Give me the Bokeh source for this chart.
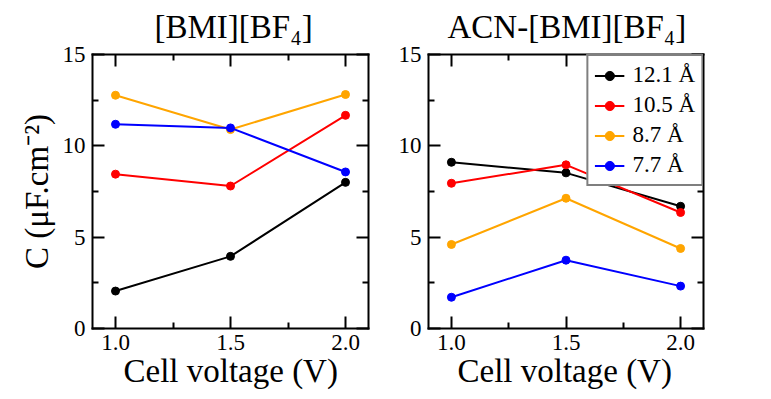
from bokeh.plotting import figure
from bokeh.models import Range1d, FixedTicker, LinearAxis, Legend, LegendItem, Title
from bokeh.layouts import row
from bokeh.embed import file_html
from bokeh.resources import INLINE

# ---------------- data ----------------
voltage = [1.0, 1.5, 2.0]
series_names = ["12.1 Å", "10.5 Å", "8.7 Å", "7.7 Å"]
series_colors = ["black", "#ff0000", "#ffa500", "#0000ff"]

# [BMI][BF4]
bmi_12_1 = [2.05, 3.95, 8.00]
bmi_10_5 = [8.45, 7.80, 11.67]
bmi_8_7 = [12.77, 10.89, 12.81]
bmi_7_7 = [11.18, 10.98, 8.57]

# ACN-[BMI][BF4]
acn_12_1 = [9.10, 8.52, 6.69]
acn_10_5 = [7.95, 8.96, 6.35]
acn_8_7 = [4.60, 7.13, 4.38]
acn_7_7 = [1.71, 3.74, 2.32]

titles = ["[BMI][BF₄]", "ACN-[BMI][BF₄]"]
x_title = "Cell voltage (V)"
y_title = "C (μF.cm⁻²)"

x_lo, x_hi = 0.9, 2.1
y_lo, y_hi = 0.0, 15.0
x_ticks = [1.0, 1.5, 2.0]
x_minor = [1.25, 1.75]
y_ticks = [0, 5, 10, 15]
y_minor = [2.5, 7.5, 12.5]
x_tick_labels = {1.0: "1.0", 1.5: "1.5", 2.0: "2.0"}

FONT = "Liberation Serif"
MAJ, MIN = 12, 6                   # tick lengths, px
H = 399
BOX_TOP, BOX_BOTTOM = 54, 328


def base_axis(ax, ticks, minor, tick_in):
    ax.ticker = FixedTicker(ticks=ticks, minor_ticks=minor)
    ax.axis_line_width = 2
    ax.axis_line_color = "black"
    ax.axis_line_cap = "square"
    ax.major_tick_line_width = 2
    ax.minor_tick_line_width = 2
    ax.major_tick_line_color = "black"
    ax.minor_tick_line_color = "black"
    ax.major_tick_in = MAJ
    ax.major_tick_out = 0
    ax.minor_tick_in = tick_in
    ax.minor_tick_out = 0
    ax.major_label_standoff = 0


def mirror_axes(p, side, ticks, minor):
    # label-free mirrored axes: tick marks only (as "minor" ticks, which carry no labels)
    a1 = LinearAxis()
    base_axis(a1, [], ticks, MAJ)
    a2 = LinearAxis()
    base_axis(a2, [], minor, MIN)
    a2.axis_line_color = None
    p.add_layout(a1, side)
    p.add_layout(a2, side)


def text_title(text, size, offset, standoff):
    return Title(text=text, text_font=FONT, text_font_size=size, text_font_style="normal",
                 text_color="black", align="left", offset=offset, standoff=standoff,
                 vertical_align="top")


def make_fig(width, mbl, mbr, series, title, t_off, xl_off):
    p = figure(width=width, height=H, x_range=Range1d(x_lo, x_hi), y_range=Range1d(y_lo, y_hi),
               output_backend="svg", toolbar_location=None,
               min_border_left=mbl, min_border_right=mbr,
               min_border_top=BOX_TOP, min_border_bottom=H - BOX_BOTTOM)
    p.grid.visible = False
    p.outline_line_color = None
    p.background_fill_color = "white"
    p.border_fill_color = "white"

    xa = p.xaxis[0]
    base_axis(xa, x_ticks, x_minor, MIN)
    xa.major_label_overrides = x_tick_labels
    xa.major_label_text_font = FONT
    xa.major_label_text_font_size = "23px"
    xa.major_label_text_color = "black"
    xa.major_label_standoff = 6

    ya = p.yaxis[0]
    base_axis(ya, y_ticks, y_minor, MIN)
    ya.major_label_text_font = FONT
    ya.major_label_text_font_size = "23px"
    ya.major_label_text_color = "black"
    ya.major_label_standoff = 7

    mirror_axes(p, "above", x_ticks, x_minor)
    mirror_axes(p, "right", y_ticks, y_minor)

    p.add_layout(text_title(title, "33px", t_off, 15), "above")
    p.add_layout(text_title(x_title, "33px", xl_off, 0), "below")

    rends = []
    for ys, c in zip(series, series_colors):
        lr = p.line(voltage, ys, line_color=c, line_width=2)
        sr = p.scatter(voltage, ys, size=8, fill_color=c, line_color=c)
        rends.append((lr, sr))
    return p, rends


# ---------- left panel ----------
p1, r1 = make_fig(388, 92, 20, [bmi_12_1, bmi_10_5, bmi_8_7, bmi_7_7], titles[0], 62, 31)
ya1 = p1.yaxis[0]
ya1.axis_label = y_title
ya1.axis_label_text_font = FONT
ya1.axis_label_text_font_size = "33px"
ya1.axis_label_text_font_style = "normal"
ya1.axis_label_text_color = "black"
ya1.axis_label_standoff = 5

# ---------- right panel ----------
p2, r2 = make_fig(383, 40, 68, [acn_12_1, acn_10_5, acn_8_7, acn_7_7], titles[1], 19, 29)

legend = Legend(items=[LegendItem(label=n, renderers=[lr, sr]) for n, (lr, sr) in zip(series_names, r2)],
                location="top_right")
legend.label_text_font = FONT
legend.label_text_font_size = "23px"
legend.label_text_color = "black"
legend.glyph_width = 30
legend.glyph_height = 23
legend.label_height = 23
legend.label_standoff = 8
legend.spacing = 4
legend.padding = 6
legend.margin = 0
legend.border_line_color = "black"
legend.border_line_width = 2
legend.background_fill_color = "white"
legend.background_fill_alpha = 1.0
p2.add_layout(legend)

layout = row(p1, p2)
open("out.html", "w").write(file_html(layout, INLINE))
